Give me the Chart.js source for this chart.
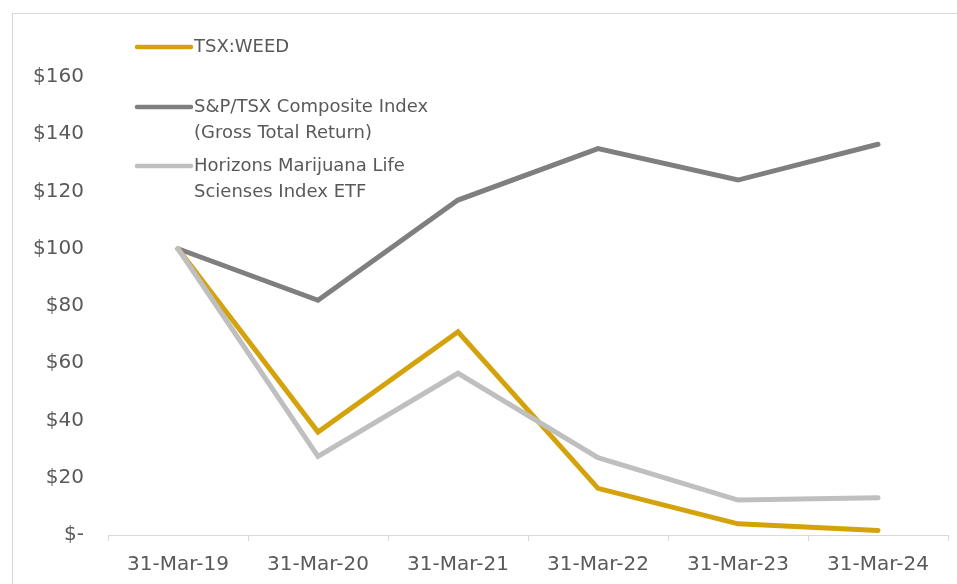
<!DOCTYPE html>
<html>
<head>
<meta charset="utf-8">
<script src="https://cdn.jsdelivr.net/npm/chart.js@4/dist/chart.umd.min.js"></script>
<style>
  html, body { margin: 0; padding: 0; background: #fff; overflow: hidden; }
  #frame { position: absolute; left: 12px; top: 13px; width: 1000px; height: 700px; border: 1px solid #d9d9d9; }
  #wrap { position: absolute; left: 0; top: 0; width: 957px; height: 584px; }
</style>
</head>
<body>
<div id="frame"></div>
<div id="wrap"><canvas id="perfChart"></canvas></div>
<script>
var dates = ['31-Mar-19', '31-Mar-20', '31-Mar-21', '31-Mar-22', '31-Mar-23', '31-Mar-24'];
var weed = [100, 36, 71, 16.3, 3.9, 1.6];
var composite = [100, 82, 117, 135, 124, 136.5];
var horizons = [100, 27.5, 56.5, 27, 12.2, 13];
var legendLines = [
  ['TSX:WEED'],
  ['S&P/TSX Composite Index', '(Gross Total Return)'],
  ['Horizons Marijuana Life', 'Scienses Index ETF']
];
var colors = ['#d4a20a', '#7f7f7f', '#bfbfbf'];
var yTicks = [0, 20, 40, 60, 80, 100, 120, 140, 160];

var textColor = '#595959';
var fontFamily = '"DejaVu Sans", sans-serif';

// legend drawn inside the plot, with wrapped labels like the original
var insideLegend = {
  id: 'insideLegend',
  afterDraw: function(chart){
    var ctx = chart.ctx;
    var rows = [47, 107, 166];
    ctx.save();
    ctx.font = '18px ' + fontFamily;
    ctx.fillStyle = textColor;
    ctx.textBaseline = 'middle';
    ctx.textAlign = 'left';
    for(var i = 0; i < legendLines.length; i++){
      ctx.strokeStyle = colors[i];
      ctx.lineWidth = 4.5;
      ctx.lineCap = 'round';
      ctx.beginPath();
      ctx.moveTo(137, rows[i]);
      ctx.lineTo(191, rows[i]);
      ctx.stroke();
      for(var j = 0; j < legendLines[i].length; j++){
        ctx.fillText(legendLines[i][j], 194, rows[i] + j * 26);
      }
    }
    ctx.restore();
  }
};

var makeSet = function(label, data, color, order){
  return {
    label: label,
    data: data,
    order: order,
    borderColor: color,
    backgroundColor: color,
    borderWidth: 5,
    pointRadius: 0,
    tension: 0,
    fill: false,
    borderCapStyle: 'round',
    borderJoinStyle: 'miter'
  };
};

var ctx = document.getElementById('perfChart').getContext('2d');
var perfChart = new Chart(ctx, {
  type: 'line',
  data: {
    labels: dates,
    datasets: [
      makeSet(legendLines[0].join(' '), weed, colors[0], 1),
      makeSet(legendLines[1].join(' '), composite, colors[1], 2),
      makeSet(legendLines[2].join(' '), horizons, colors[2], 0)
    ]
  },
  options: {
    responsive: true,
    maintainAspectRatio: false,
    animation: false,
    layout: { padding: { top: 77, right: 9, left: 0, bottom: 0 } },
    plugins: {
      legend: { display: false },
      tooltip: { enabled: false }
    },
    scales: {
      x: {
        offset: true,
        grid: { offset: true, drawOnChartArea: false, drawTicks: true, tickLength: 6, color: '#d9d9d9' },
        border: { display: true, color: '#d9d9d9', width: 1 },
        ticks: { color: textColor, font: { family: fontFamily, size: 20 }, padding: 12, maxRotation: 0 },
        afterFit: function(scale){ scale.height = 49; }
      },
      y: {
        min: 0,
        max: 160,
        afterBuildTicks: function(scale){
          scale.ticks = yTicks.map(function(v){ return { value: v }; });
        },
        grid: { display: false, drawTicks: false },
        border: { display: false },
        ticks: {
          color: textColor,
          font: { family: fontFamily, size: 20 },
          padding: 24,
          callback: function(v){ return v === 0 ? '$-' : '$' + v; }
        },
        afterFit: function(scale){ scale.width = 108; }
      }
    }
  },
  plugins: [insideLegend]
});
</script>
</body>
</html>
